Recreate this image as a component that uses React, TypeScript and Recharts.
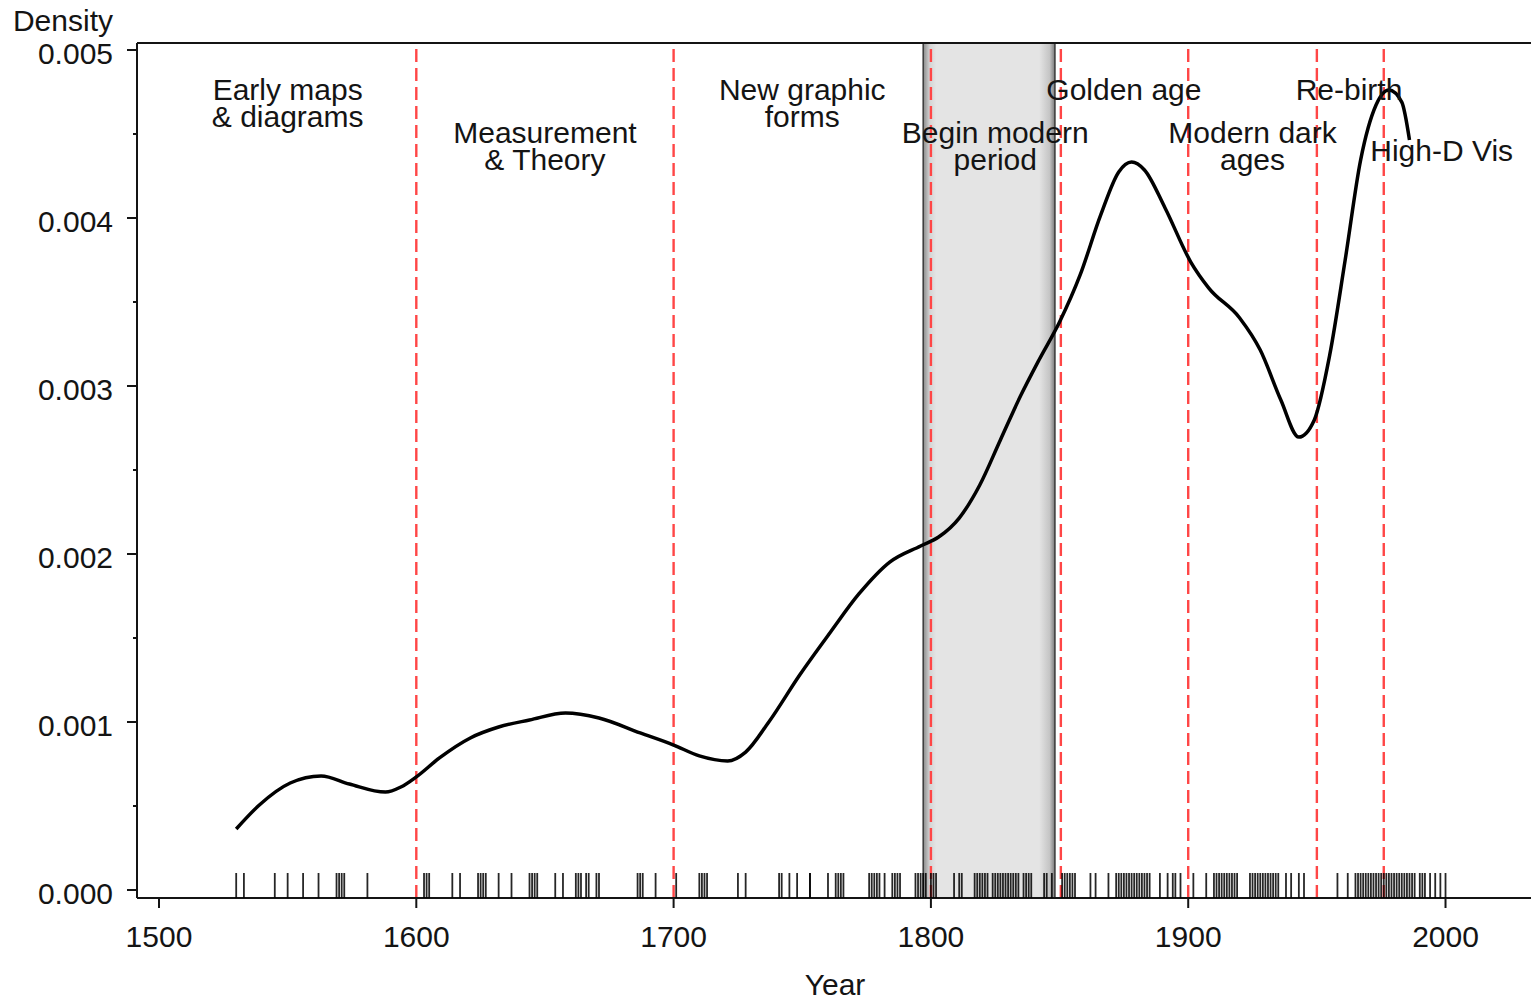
import React from "react"
import {
  ComposedChart,
  Line,
  Scatter,
  XAxis,
  YAxis,
  ReferenceLine,
  ReferenceArea,
} from "recharts"

// kernel density estimate of milestone years
const curveYears = [
  1530, 1539, 1551, 1563, 1574, 1588, 1594, 1600, 1609, 1621, 1632, 1644,
  1658, 1671, 1687, 1700, 1710, 1721, 1728, 1737, 1749, 1761, 1772, 1784,
  1796, 1803, 1811, 1819, 1827, 1835, 1842, 1850, 1858, 1866, 1873, 1878,
  1883, 1891, 1901, 1908, 1920, 1928, 1936, 1943, 1949, 1955, 1961, 1967,
  1973, 1978, 1983, 1986,
]
const curveDensity = [
  0.000363, 0.000506, 0.000637, 0.000679, 0.000631, 0.000583, 0.000613,
  0.000673, 0.000786, 0.000905, 0.00097, 0.001012, 0.001054, 0.001024,
  0.000935, 0.000863, 0.000798, 0.000768, 0.000821, 0.001, 0.00128,
  0.001536, 0.001762, 0.001952, 0.002048, 0.002101, 0.002214, 0.002411,
  0.002679, 0.002946, 0.003155, 0.003381, 0.003661, 0.004018, 0.004274,
  0.004333, 0.004286, 0.00406, 0.003738, 0.003583, 0.003405, 0.003214,
  0.002917, 0.002696, 0.002798, 0.003185, 0.00375, 0.004345, 0.004673,
  0.004762, 0.00469, 0.004464,
]

// rug: individual milestone years
const rugYears = [
  1530, 1533, 1545, 1550, 1556, 1562, 1569, 1570, 1571, 1572, 1581,
  1603, 1604, 1605, 1614, 1617, 1624, 1625, 1626, 1627,
  1632, 1637, 1644, 1645, 1646, 1647, 1654, 1657, 1662, 1663, 1664, 1666,
  1667, 1670, 1671, 1686, 1687, 1688, 1693, 1701,
  1710, 1711, 1712, 1713, 1725, 1728, 1741, 1742, 1745, 1748, 1753, 1753,
  1760, 1763, 1764, 1765, 1766, 1776, 1777, 1778, 1779, 1780, 1782, 1785,
  1786, 1787, 1788, 1794, 1795, 1796, 1797, 1798, 1800, 1801, 1802,
  1809, 1811, 1812, 1817, 1818, 1819, 1820, 1821, 1822, 1824, 1825, 1826,
  1827, 1828, 1829, 1830, 1831, 1832, 1833, 1834, 1836, 1837, 1838, 1839,
  1844, 1845, 1847,
  1851, 1852, 1853, 1854, 1855, 1856, 1862, 1864, 1869, 1872, 1873, 1874,
  1875, 1876, 1877, 1878, 1879, 1880, 1881, 1882, 1883, 1884, 1885, 1889,
  1892, 1894, 1895, 1897, 1902, 1907, 1910, 1911, 1912, 1913, 1914, 1915,
  1916, 1917, 1918, 1919, 1924, 1925, 1926, 1927, 1928, 1929, 1930, 1931,
  1932, 1933, 1934, 1935, 1938, 1940, 1943, 1945, 1958, 1962,
  1965, 1966, 1967, 1968, 1969, 1970, 1971, 1972, 1973, 1974, 1975, 1976,
  1977, 1978, 1979, 1980, 1981, 1982, 1983, 1984, 1985, 1986, 1987, 1988,
  1990, 1991, 1992, 1994, 1996, 1998, 2000,
]

const periodBreaks = [1600, 1700, 1800, 1850.5, 1900, 1950, 1976]
const periodMid = [1550, 1650, 1750, 1825, 1875, 1925, 1962.5, 1998.5]
const periodNames = [
  ["Early maps", "& diagrams"],
  ["Measurement", "& Theory"],
  ["New graphic", "forms"],
  ["Begin modern", "period"],
  ["Golden age"],
  ["Modern dark", "ages"],
  ["Re-birth"],
  ["High-D Vis"],
]
// highlighted span
const shadeFrom = 1797
const shadeTo = 1848.2

const xTicks = [1500, 1600, 1700, 1800, 1900, 2000]
const yTicks = [0, 0.0005, 0.001, 0.0015, 0.002, 0.0025, 0.003, 0.0035, 0.004, 0.0045, 0.005]

const curveData = curveYears.map((year, i) => ({ year, density: curveDensity[i] }))
const rugData = rugYears.map((year) => ({ year, density: 0 }))

const FONT = "'Liberation Sans', Arial, Helvetica, sans-serif"
const FS = 30
const INK = "#141414"
const X_DOMAIN = [1491.45, 2034]
const Y_DOMAIN = [-0.0000476, 0.0050417]
// label rows measured from the top of the plot box
const labelOffset = [57, 100, 57, 100, 57, 100, 57, 118]

const XTick = ({ x, y, payload }: any) => (
  <text x={x} y={y + 39} textAnchor="middle" fontFamily={FONT} fontSize={FS} fill={INK}>
    {payload.value}
  </text>
)

const YTick = ({ x, y, payload }: any) => {
  const v = payload.value
  const major = Math.abs(Math.round(v * 1000) - v * 1000) < 1e-6
  return (
    <g>
      <line x1={x - (major ? 10 : 4)} x2={x} y1={y} y2={y} stroke={INK} strokeWidth={2} />
      {major && (
        <text x={x - 24} y={y + 14} textAnchor="end" fontFamily={FONT} fontSize={FS} fill={INK}>
          {v.toFixed(3)}
        </text>
      )}
    </g>
  )
}

const RugMark = ({ cx, cy }: any) => (
  <line x1={cx} x2={cx} y1={cy - 17} y2={cy + 8} stroke="#000" strokeWidth={1.8} strokeOpacity={0.85} />
)

const periodLabel = (i: number) => ({ viewBox }: any) => (
  <text textAnchor="middle" fontFamily={FONT} fontSize={FS} fill={INK}>
    {periodNames[i].map((line, k) => (
      <tspan key={k} x={viewBox.x} y={viewBox.y + labelOffset[i] + k * 27}>
        {line}
      </tspan>
    ))}
  </text>
)

export default function App() {
  return (
    <div style={{ position: "absolute", left: 0, top: 0, width: 1531, height: 1001, overflow: "hidden", background: "#fff" }}>
      <ComposedChart width={1545} height={1001} margin={{ top: 43, right: 12, bottom: 8, left: 7 }}>
        <defs>
          <linearGradient id="shade" x1="0" y1="0" x2="1" y2="0">
            <stop offset="0" stopColor="#8a8a8a" />
            <stop offset="0.05" stopColor="#d4d4d4" />
            <stop offset="0.1" stopColor="#e4e4e4" />
            <stop offset="0.88" stopColor="#e4e4e4" />
            <stop offset="0.96" stopColor="#c4c4c4" />
            <stop offset="1" stopColor="#7a7a7a" />
          </linearGradient>
        </defs>
        <XAxis
          dataKey="year"
          type="number"
          domain={X_DOMAIN}
          ticks={xTicks}
          allowDataOverflow
          height={95}
          tickSize={10}
          tickMargin={0}
          tickLine={{ stroke: INK, strokeWidth: 2 }}
          axisLine={{ stroke: INK, strokeWidth: 2 }}
          tick={<XTick />}
          label={{
            content: ({ viewBox }: any) => (
              <text x={viewBox.x + viewBox.width / 2} y={viewBox.y + 97} textAnchor="middle" fontFamily={FONT} fontSize={FS} fill={INK}>
                Year
              </text>
            ),
          }}
        />
        <YAxis
          dataKey="density"
          type="number"
          domain={Y_DOMAIN}
          ticks={yTicks}
          allowDataOverflow
          width={130}
          tickSize={0}
          tickMargin={0}
          tickLine={false}
          axisLine={{ stroke: INK, strokeWidth: 2 }}
          tick={<YTick />}
          label={{
            content: ({ viewBox }: any) => (
              <text x={viewBox.x + viewBox.width - 24} y={viewBox.y - 12} textAnchor="end" fontFamily={FONT} fontSize={FS} fill={INK}>
                Density
              </text>
            ),
          }}
        />
        <ReferenceArea x1={shadeFrom} x2={shadeTo} fill="url(#shade)" fillOpacity={1} stroke="#3a3a3a" strokeWidth={1.5} />
        <ReferenceLine y={Y_DOMAIN[1]} stroke={INK} strokeWidth={2} />
        {periodBreaks.map((b) => (
          <ReferenceLine key={b} x={b} stroke="#ff4646" strokeWidth={2.4} strokeDasharray="13 6" />
        ))}
        <Scatter data={rugData} dataKey="density" shape={<RugMark />} isAnimationActive={false} />
        <Line
          data={curveData}
          dataKey="density"
          type="monotone"
          stroke="#000"
          strokeWidth={3.5}
          dot={false}
          activeDot={false}
          isAnimationActive={false}
        />
        {periodMid.map((m, i) => (
          <ReferenceLine key={"lab" + i} x={m} stroke="none" label={{ content: periodLabel(i) }} />
        ))}
      </ComposedChart>
    </div>
  )
}
